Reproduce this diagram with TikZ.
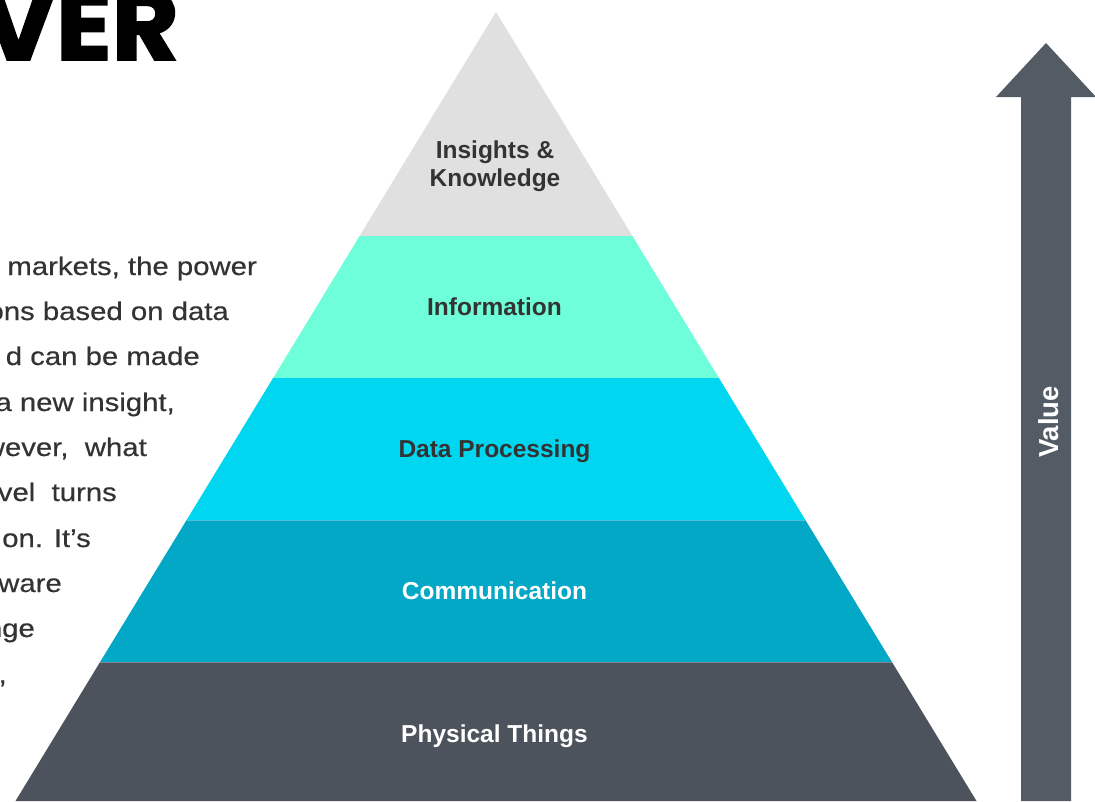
\documentclass[tikz,border=0pt]{standalone}
\usepackage{fontspec}
\setmainfont{Liberation Sans}
\newfontfamily\titlefont{Poppins}
\usepackage{graphicx}
\definecolor{bandgrey}{HTML}{E0E0E0}
\definecolor{bandmint}{HTML}{6EFFDA}
\definecolor{bandcyan}{HTML}{00D6EF}
\definecolor{bandteal}{HTML}{03A8C6}
\definecolor{banddark}{HTML}{4D535C}
\definecolor{arrowgrey}{HTML}{535C65}
\definecolor{inktext}{HTML}{333333}
\tikzset{
  band/.style={draw=none},
  seam/.style={draw=white, draw opacity=0.3, line width=0.9pt},
  layerlabel/.style={font=\fontsize{24.5}{28.5}\selectfont\bfseries, inner sep=0pt, anchor=base, align=center},
  bodyline/.style={font=\fontsize{25.5}{30}\selectfont\addfontfeature{FakeBold=0.4}, text=inktext, inner sep=0pt, anchor=base east},
}
\newcommand{\wide}[1]{\scalebox{1.15}[1]{#1}}
\begin{document}
\begin{tikzpicture}[x=1pt, y=-1pt]
  \clip (0,0) rectangle (1095,801);
  \fill[white] (0,0) rectangle (1095,801);

  % heading, cut by the page edge
  \node[inner sep=0pt, anchor=base east, font=\titlefont\bfseries\fontsize{98}{100}\selectfont\addfontfeature{FakeBold=2}] (title) at (179,60) {\scalebox{1.05}[1]{VER}};

  % body paragraph, each line following the slope of the pyramid
  \node[bodyline] (l1) at (257,275) {\wide{markets, the power}};
  \node[bodyline] (l2) at (229,320) {\wide{ons based on data}};
  \node[bodyline] (l3) at (200,365) {\wide{d can be made}};
  \node[bodyline] (l4) at (175,411) {\wide{a new insight,}};
  \node[bodyline] (l5) at (147,456) {\wide{wever,\ \ what}};
  \node[bodyline] (l6) at (117,501) {\wide{vel\ \ turns}};
  \node[bodyline] (l7) at (91,547) {\wide{on. It’s}};
  \node[bodyline] (l8) at (62,592) {\wide{ware}};
  \node[bodyline] (l9) at (35,637) {\wide{nge}};
  \node[bodyline] (l10) at (7,683) {\wide{r,}};

  % pyramid layers
  \fill[band, bandgrey] (496,12) -- (632.4,236) -- (359.6,236) -- cycle;
  \fill[band, bandmint] (359.6,236) -- (632.4,236) -- (718.9,378) -- (273.1,378) -- cycle;
  \fill[band, bandcyan] (273.1,378) -- (718.9,378) -- (805.4,520) -- (186.6,520) -- cycle;
  \fill[band, bandteal] (186.6,520) -- (805.4,520) -- (891.9,662) -- (100.1,662) -- cycle;
  \fill[band, banddark] (100.1,662) -- (891.9,662) -- (976.5,801) -- (15.5,801) -- cycle;
  \draw[seam] (186.6,520) -- (805.4,520);
  \draw[seam] (100.1,662) -- (891.9,662);

  % layer labels
  \node[layerlabel, text=inktext, anchor=center] (insights) at (495,166) {Insights \&\\Knowledge};
  \node[layerlabel, text=inktext] (information) at (494.5,315) {Information};
  \node[layerlabel, text=inktext] (processing) at (494.5,457) {Data Processing};
  \node[layerlabel, text=white] (communication) at (494.5,599) {Communication};
  \node[layerlabel, text=white] (physical) at (494.5,742) {Physical Things};

  % value arrow
  \fill[arrowgrey] (1046,43) -- (1096,97) -- (1071,97) -- (1071,801) -- (1021,801) -- (1021,97) -- (996,97) -- cycle;
  \node[inner sep=0pt, rotate=90, text=white, font=\fontsize{27.5}{30}\selectfont\bfseries] (value) at (1049,422) {Value};
\end{tikzpicture}
\end{document}
